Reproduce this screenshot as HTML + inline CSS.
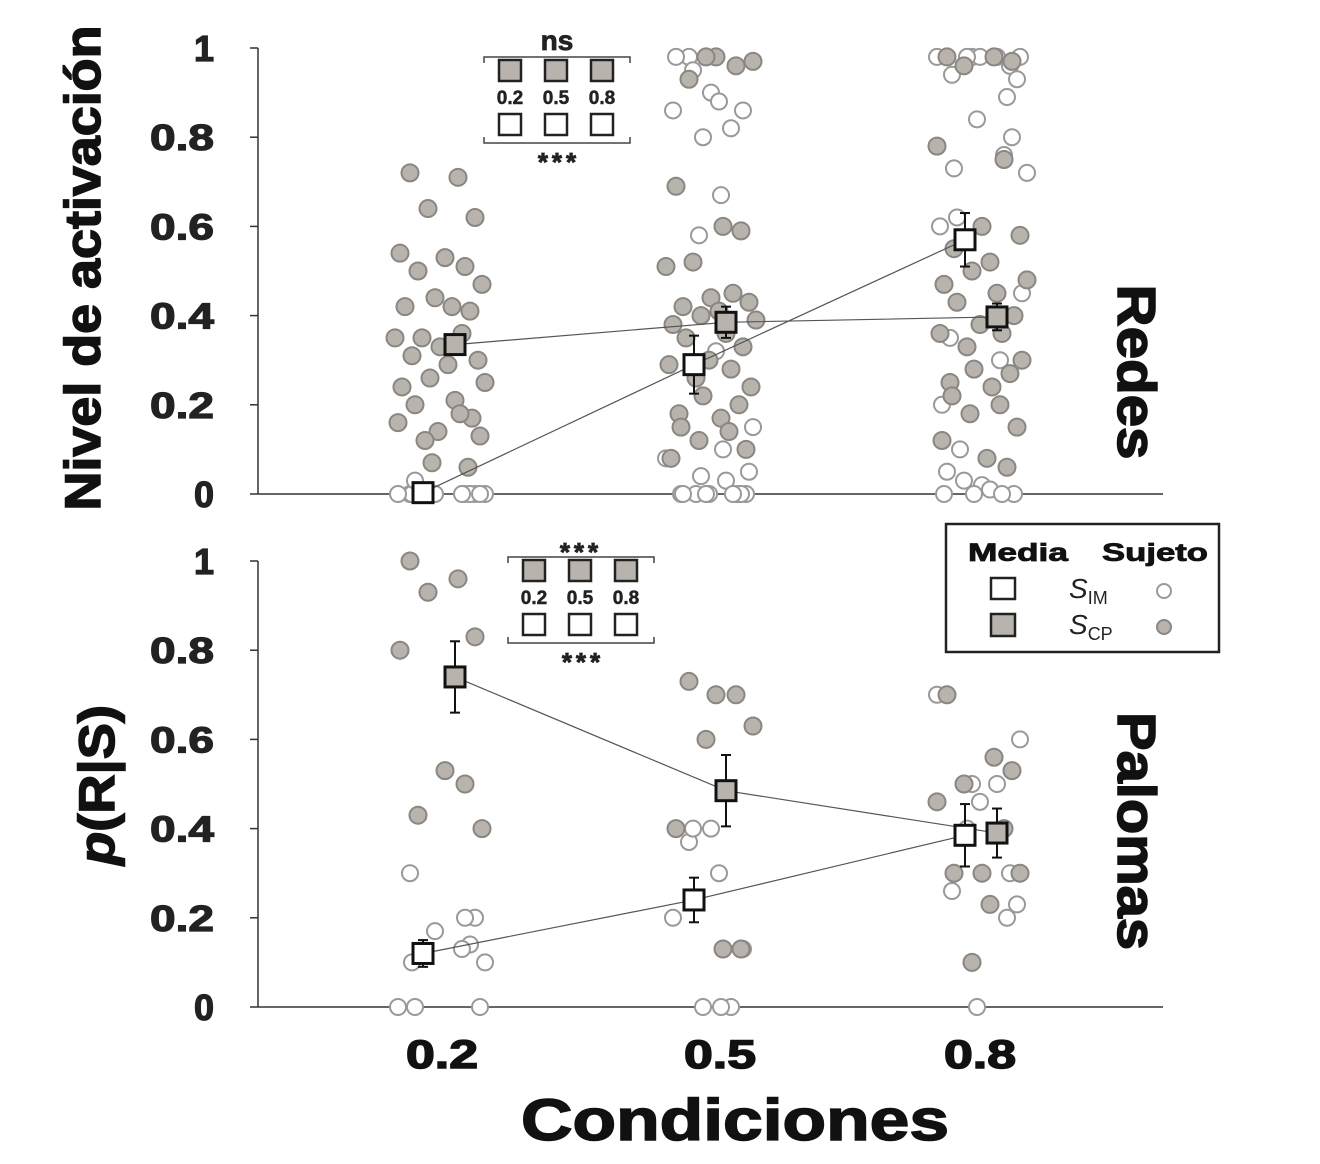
<!DOCTYPE html>
<html><head><meta charset="utf-8"><style>
html,body{margin:0;padding:0;background:#fff;}
svg{display:block;font-family:"Liberation Sans",Arial,sans-serif;}
</style></head><body>
<svg id="chart" width="1320" height="1164" viewBox="0 0 1320 1164" xmlns="http://www.w3.org/2000/svg"></svg>
<script>
const conditions = ["0.2","0.5","0.8"];
const yTicks = [0,0.2,0.4,0.6,0.8,1];
const yTickLabels = ["0","0.2","0.4","0.6","0.8","1"];
// Redes panel subject values
const redesCP = [
 [0.72,0.71,0.64,0.62,0.54,0.53,0.51,0.50,0.47,0.44,0.42,0.42,0.41,0.35,0.35,0.36,0.33,0.30,0.31,0.29,0.26,0.25,0.24,0.21,0.20,0.17,0.14,0.16,0.18,0.12,0.13,0.07,0.06],
 [0.98,0.96,0.93,0.97,0.98,0.69,0.60,0.59,0.52,0.51,0.45,0.44,0.43,0.42,0.41,0.40,0.39,0.38,0.36,0.35,0.33,0.30,0.29,0.28,0.26,0.24,0.22,0.20,0.18,0.17,0.15,0.14,0.12,0.10,0.08],
 [0.98,0.98,0.97,0.96,0.78,0.75,0.60,0.58,0.55,0.52,0.50,0.48,0.47,0.45,0.43,0.40,0.38,0.36,0.36,0.33,0.30,0.28,0.27,0.25,0.24,0.22,0.20,0.18,0.15,0.12,0.08,0.06]
];
const redesIM = [
 [0,0,0,0,0,0,0,0,0.03,0,0],
 [0.98,0.98,0.95,0.90,0.88,0.86,0.86,0.82,0.80,0.67,0.58,0.32,0.15,0.10,0.08,0.05,0.04,0.03,0,0,0,0,0,0,0,0,0,0],
 [0.98,0.98,0.98,0.98,0.98,0.98,0.96,0.94,0.93,0.89,0.84,0.80,0.76,0.73,0.72,0.62,0.60,0.45,0.35,0.30,0.20,0.10,0.05,0.03,0.02,0.01,0,0,0,0]
];
const redesMeanIM = [0.003,0.29,0.57];
const redesErrIM = [0.01,0.065,0.06];
const redesMeanCP = [0.335,0.385,0.397];
const redesErrCP = [0.02,0.035,0.03];
// Palomas panel
const palCP = [[1.0,0.96,0.93,0.83,0.80,0.53,0.50,0.43,0.40],[0.70,0.70,0.73,0.63,0.60,0.40,0.13,0.13],[0.70,0.56,0.53,0.50,0.46,0.40,0.30,0.30,0.30,0.23,0.10]];
const palIM = [[0.30,0.20,0.20,0.17,0.14,0.13,0.10,0.10,0,0,0],[0.37,0.40,0.40,0.40,0.30,0.20,0.13,0,0,0],[0.70,0.60,0.50,0.50,0.46,0.40,0.30,0.26,0.23,0.20,0]];
const palMeanIM = [0.12,0.24,0.385];
const palErrIM = [0.03,0.05,0.07];
const palMeanCP = [0.74,0.485,0.39];
const palErrCP = [0.08,0.08,0.055];

const NS="http://www.w3.org/2000/svg";
const svg=document.getElementById('chart');
function el(tag,attrs,parent,text){const e=document.createElementNS(NS,tag);for(const k in attrs)e.setAttribute(k,attrs[k]);if(text!==undefined)e.textContent=text;(parent||svg).appendChild(e);return e;}
const xCat=i=>440+i*271;
const jit=[-30,18,-12,35,-40,5,25,-22,42,-5,-35,12,30,-18,-45,22,0,38,-28,8,-10,45,-38,15,-25,32,-2,-42,20,-15,40,-8,28,-32,10];
function panel(y0,name,CP,IM,mIM,eIM,mCP,eCP){
  const ys=v=>y0-v*446;
  const g=el('g',{});
  
  
  let a=el('line',{x1:258,y1:ys(0),x2:1163,y2:ys(0),stroke:'#333','stroke-width':1.5},g);
  
  a=el('line',{x1:258,y1:ys(0),x2:258,y2:ys(1),stroke:'#333','stroke-width':1.5},g);
  
  yTicks.forEach((t,i)=>{
    el('line',{x1:250,y1:ys(t),x2:258,y2:ys(t),stroke:'#333','stroke-width':1.5},g);
    const attrs={x:214,y:ys(t)+13,'text-anchor':'end','font-size':36,'font-weight':'bold',fill:'#222',stroke:'#222','stroke-width':1.2};
    if(yTickLabels[i].length>1){attrs.textLength=64;attrs.lengthAdjust='spacingAndGlyphs';}
    const tx=el('text',attrs,g,yTickLabels[i]);
    
  });
  for(let c=0;c<3;c++){
    IM[c].forEach((v,k)=>{const p=el('circle',{cx:xCat(c)+jit[(k*3+c*7)%jit.length],cy:ys(v),r:8,fill:'#fff',stroke:'#999','stroke-width':2},g);
      });
    CP[c].forEach((v,k)=>{const p=el('circle',{cx:xCat(c)+jit[(k+c*5)%jit.length],cy:ys(v),r:8.5,fill:'#b8b3ad',stroke:'#8a8681','stroke-width':2},g);
      });
  }
  const series=[[mIM,eIM,-17,'#fff','im'],[mCP,eCP,15,'#b8b3ad','cp']];
  series.forEach(([m,e,dx,fill,id])=>{
    const pts=m.map((v,i)=>(xCat(i)+dx)+','+ys(v)).join(' ');
    const l=el('polyline',{points:pts,fill:'none',stroke:'#555','stroke-width':1.2},g);
    
  });
  series.forEach(([m,e,dx,fill,id])=>{
    m.forEach((v,i)=>{const x=xCat(i)+dx;
      el('line',{x1:x,y1:ys(v+e[i]),x2:x,y2:ys(v-e[i]),stroke:'#111','stroke-width':2},g);
      el('line',{x1:x-5,y1:ys(v+e[i]),x2:x+5,y2:ys(v+e[i]),stroke:'#111','stroke-width':2},g);
      el('line',{x1:x-5,y1:ys(v-e[i]),x2:x+5,y2:ys(v-e[i]),stroke:'#111','stroke-width':2},g);
      const r=el('rect',{x:x-10,y:ys(v)-10,width:20,height:20,fill:fill,stroke:'#111','stroke-width':3},g);
      
    });
  });
}
panel(494,'redes',redesCP,redesIM,redesMeanIM,redesErrIM,redesMeanCP,redesErrCP);
panel(1007,'palomas',palCP,palIM,palMeanIM,palErrIM,palMeanCP,palErrCP);

function inset(x0,y0,top,bottom,nm){
  const g=el('g',{});
  
  el('text',{x:x0+73,y:top==='ns'?y0-7:y0+4,'text-anchor':'middle','font-size':top==='ns'?28:26,'font-weight':'bold',fill:'#222',stroke:'#222','stroke-width':0.8,'letter-spacing':top==='ns'?0:4},g,top);
  el('path',{d:`M${x0},${y0+6}V${y0}H${x0+146}V${y0+6}`,fill:'none',stroke:'#444','stroke-width':1.5},g);
  [26,72,118].forEach((dx,i)=>{
    el('rect',{x:x0+dx-11,y:y0+3,width:22,height:21,fill:'#b8b3ad',stroke:'#222','stroke-width':2.5},g);
    el('text',{x:x0+dx,y:y0+47,'text-anchor':'middle','font-size':19,'font-weight':'bold',fill:'#222',stroke:'#222','stroke-width':0.5},g,conditions[i]);
    el('rect',{x:x0+dx-11,y:y0+57,width:22,height:21,fill:'#fff',stroke:'#222','stroke-width':2.5},g);
  });
  el('path',{d:`M${x0},${y0+80}V${y0+86}H${x0+146}V${y0+80}`,fill:'none',stroke:'#444','stroke-width':1.5},g);
  el('text',{x:x0+75,y:y0+114,'text-anchor':'middle','font-size':26,'font-weight':'bold',fill:'#222',stroke:'#222','stroke-width':0.8,'letter-spacing':4},g,bottom);
}
inset(484,57,'ns','***','redes-inset');
inset(508,557,'***','***','palomas-inset');
</script>
<script>
(function(){
const NS="http://www.w3.org/2000/svg";const svg=document.getElementById('chart');
function t(x,y,s,txt,attrs,name){const e=document.createElementNS(NS,'text');e.setAttribute('x',x);e.setAttribute('y',y);e.setAttribute('font-size',s);e.setAttribute('font-weight','bold');e.setAttribute('fill','#111');e.setAttribute('stroke','#111');e.setAttribute('stroke-width','1.5');for(const k in attrs)e.setAttribute(k,attrs[k]);e.textContent=txt;


svg.appendChild(e);return e;}
t(0,0,50,'Nivel de activación',{transform:'translate(100,268) rotate(-90)','text-anchor':'middle',textLength:485,lengthAdjust:'spacingAndGlyphs'},'y-axis-title-redes');
const p=t(0,0,50,'',{transform:'translate(114,785) rotate(-90)','text-anchor':'middle',textLength:160,lengthAdjust:'spacingAndGlyphs'},'y-axis-title-palomas');
const ts=document.createElementNS(NS,'tspan');ts.setAttribute('font-style','italic');ts.textContent='p';p.appendChild(ts);p.appendChild(document.createTextNode('(R|S)'));
t(0,0,54,'Redes',{transform:'translate(1118,372) rotate(90)','text-anchor':'middle',textLength:175,lengthAdjust:'spacingAndGlyphs'},'panel-label-redes');
t(0,0,54,'Palomas',{transform:'translate(1118,831) rotate(90)','text-anchor':'middle',textLength:238,lengthAdjust:'spacingAndGlyphs'},'panel-label-palomas');
[['0.2',442],['0.5',720],['0.8',980]].forEach(([s,x])=>t(x,1068,40,s,{'text-anchor':'middle',textLength:72,lengthAdjust:'spacingAndGlyphs'},'x-tick-label'));
t(735,1140,58,'Condiciones',{'text-anchor':'middle',textLength:428,lengthAdjust:'spacingAndGlyphs'},'x-axis-title');
})();
</script>
<script>
(function(){
const NS="http://www.w3.org/2000/svg";const svg=document.getElementById('chart');
const g=document.createElementNS(NS,'g');


g.innerHTML=`<rect x="946" y="524" width="273" height="128" fill="#fff" stroke="#222" stroke-width="2.5"/>
<text x="1018" y="561" text-anchor="middle" font-size="25" font-weight="bold" fill="#111" stroke="#111" stroke-width="0.8" textLength="100" lengthAdjust="spacingAndGlyphs">Media</text>
<text x="1155" y="561" text-anchor="middle" font-size="25" font-weight="bold" fill="#111" stroke="#111" stroke-width="0.8" textLength="106" lengthAdjust="spacingAndGlyphs">Sujeto</text>
<rect x="991" y="578" width="24" height="21" fill="#fff" stroke="#222" stroke-width="2.5"/>
<rect x="991" y="614" width="24" height="22" fill="#b8b3ad" stroke="#222" stroke-width="2.5"/>
<text x="1069" y="598" font-size="28" font-style="italic" fill="#222">S<tspan font-size="18" font-style="normal" dy="6">IM</tspan></text>
<text x="1069" y="634" font-size="28" font-style="italic" fill="#222">S<tspan font-size="18" font-style="normal" dy="6">CP</tspan></text>
<circle cx="1164" cy="591" r="7" fill="#fff" stroke="#999" stroke-width="2"/>
<circle cx="1164" cy="627" r="7" fill="#b8b3ad" stroke="#8a8681" stroke-width="2"/>`;
svg.appendChild(g);
})();
</script>
</body></html>
